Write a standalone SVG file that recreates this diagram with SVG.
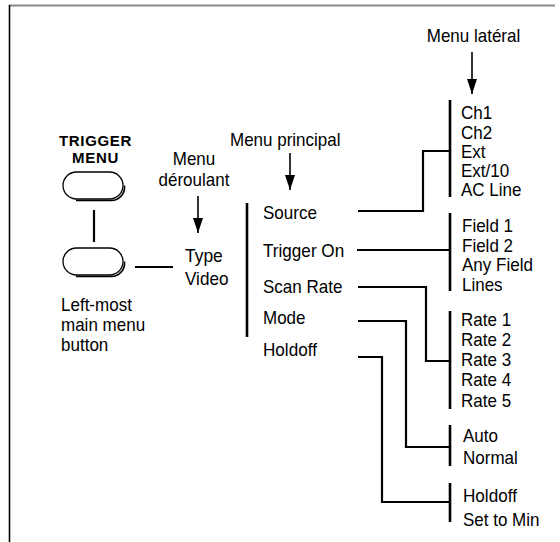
<svg xmlns="http://www.w3.org/2000/svg" width="560" height="542" viewBox="0 0 560 542">
<style>
.t{font-family:"Liberation Sans",Arial,Helvetica,sans-serif;font-size:19px;fill:#000}
.b{font-family:"Liberation Sans",Arial,Helvetica,sans-serif;font-size:15px;font-weight:bold;letter-spacing:0.7px;fill:#000}
.bar{stroke:#000;stroke-width:2.6;fill:none}
.c{stroke:#000;stroke-width:2.2;fill:none}
.a{stroke:#000;stroke-width:1.6;fill:none;marker-end:url(#ah)}
.btn{fill:#fff;stroke:#000;stroke-width:1.3}
.sh{fill:none;stroke:#000;stroke-width:1.6}
</style>
<defs>
<marker id="ah" viewBox="0 -5 15 10" markerWidth="15" markerHeight="10" refX="15" refY="0" orient="auto" markerUnits="userSpaceOnUse">
<path d="M0,-5 L15,0 L0,5 z" fill="#000"/>
</marker>
</defs>
<rect width="560" height="542" fill="#fff"/>
<g id="frame">
<line x1="9" y1="5.5" x2="555" y2="5.5" stroke="#888" stroke-width="1.8"/>
<line x1="9.5" y1="5" x2="9.5" y2="542" stroke="#000" stroke-width="1.6"/>
</g>
<g id="trigger-menu-label">
<text class="b" x="95.5" y="145.5" text-anchor="middle">TRIGGER</text>
<text class="b" x="95.5" y="162.5" text-anchor="middle">MENU</text>
</g>
<g id="button-trigger-menu">
<rect class="btn" x="63" y="172" width="60" height="27" rx="13.5"/>
<path class="sh" d="M76,200.5 H110 A13.5,13.5 0 0 0 124.5,185.5"/>
</g>
<g id="button-left-most">
<rect class="btn" x="63" y="248" width="60" height="27" rx="13.5"/>
<path class="sh" d="M76,276.5 H110 A13.5,13.5 0 0 0 124.5,261.5"/>
</g>
<g id="label-left-most">
<text class="t" x="61" y="310.5" textLength="70.9" lengthAdjust="spacingAndGlyphs">Left-most</text>
<text class="t" x="61" y="330.5" textLength="84.1" lengthAdjust="spacingAndGlyphs">main menu</text>
<text class="t" x="61" y="350.5" textLength="47.3" lengthAdjust="spacingAndGlyphs">button</text>
</g>
<g id="label-menu-deroulant">
<text class="t" x="194" y="165" text-anchor="middle" textLength="42.5" lengthAdjust="spacingAndGlyphs">Menu</text>
<text class="t" x="194" y="186" text-anchor="middle" textLength="70.9" lengthAdjust="spacingAndGlyphs">déroulant</text>
</g>
<g id="node-type-video">
<text class="t" x="185" y="261.5" textLength="37.8" lengthAdjust="spacingAndGlyphs">Type</text>
<text class="t" x="185" y="284.5" textLength="43.5" lengthAdjust="spacingAndGlyphs">Video</text>
</g>
<g id="label-menu-principal">
<text class="t" x="230" y="146" textLength="110.5" lengthAdjust="spacingAndGlyphs">Menu principal</text>
</g>
<g id="main-menu">
<line class="bar" x1="247" y1="203" x2="247" y2="337"/>
<text class="t" x="263" y="219" textLength="53.9" lengthAdjust="spacingAndGlyphs">Source</text>
<text class="t" x="263" y="257" textLength="81.2" lengthAdjust="spacingAndGlyphs">Trigger On</text>
<text class="t" x="263" y="292.5" textLength="79.4" lengthAdjust="spacingAndGlyphs">Scan Rate</text>
<text class="t" x="263" y="323.5" textLength="42.5" lengthAdjust="spacingAndGlyphs">Mode</text>
<text class="t" x="263" y="356" textLength="53.9" lengthAdjust="spacingAndGlyphs">Holdoff</text>
</g>
<g id="label-menu-lateral">
<text class="t" x="473.5" y="42" text-anchor="middle" textLength="93.5" lengthAdjust="spacingAndGlyphs">Menu latéral</text>
</g>
<g id="side-source">
<line class="bar" x1="450" y1="100" x2="450" y2="197"/>
<text class="t" x="461" y="119" textLength="31.2" lengthAdjust="spacingAndGlyphs">Ch1</text>
<text class="t" x="461" y="138.5" textLength="31.2" lengthAdjust="spacingAndGlyphs">Ch2</text>
<text class="t" x="461" y="158" textLength="24.6" lengthAdjust="spacingAndGlyphs">Ext</text>
<text class="t" x="461" y="177" textLength="48.2" lengthAdjust="spacingAndGlyphs">Ext/10</text>
<text class="t" x="461" y="196" textLength="60.5" lengthAdjust="spacingAndGlyphs">AC Line</text>
</g>
<g id="side-trigger-on">
<line class="bar" x1="450" y1="213" x2="450" y2="291"/>
<text class="t" x="462" y="232" textLength="51" lengthAdjust="spacingAndGlyphs">Field 1</text>
<text class="t" x="462" y="252" textLength="51" lengthAdjust="spacingAndGlyphs">Field 2</text>
<text class="t" x="462" y="271" textLength="70.9" lengthAdjust="spacingAndGlyphs">Any Field</text>
<text class="t" x="462" y="291" textLength="40.6" lengthAdjust="spacingAndGlyphs">Lines</text>
</g>
<g id="side-scan-rate">
<line class="bar" x1="450" y1="311" x2="450" y2="409"/>
<text class="t" x="461" y="326" textLength="50.1" lengthAdjust="spacingAndGlyphs">Rate 1</text>
<text class="t" x="461" y="346" textLength="50.1" lengthAdjust="spacingAndGlyphs">Rate 2</text>
<text class="t" x="461" y="366" textLength="50.1" lengthAdjust="spacingAndGlyphs">Rate 3</text>
<text class="t" x="461" y="386" textLength="50.1" lengthAdjust="spacingAndGlyphs">Rate 4</text>
<text class="t" x="461" y="406.5" textLength="50.1" lengthAdjust="spacingAndGlyphs">Rate 5</text>
</g>
<g id="side-mode">
<line class="bar" x1="450" y1="425" x2="450" y2="466"/>
<text class="t" x="463" y="442" textLength="35" lengthAdjust="spacingAndGlyphs">Auto</text>
<text class="t" x="463" y="464" textLength="54.8" lengthAdjust="spacingAndGlyphs">Normal</text>
</g>
<g id="side-holdoff">
<line class="bar" x1="450" y1="483" x2="450" y2="522"/>
<text class="t" x="463" y="502" textLength="53.9" lengthAdjust="spacingAndGlyphs">Holdoff</text>
<text class="t" x="463" y="525.5" textLength="76.5" lengthAdjust="spacingAndGlyphs">Set to Min</text>
</g>
<g id="connectors">
<line class="c" x1="94" y1="210" x2="94" y2="242"/>
<line class="c" x1="135" y1="267" x2="173" y2="267"/>
<line class="a" x1="472" y1="52" x2="472" y2="94"/>
<line class="a" x1="290" y1="153" x2="290" y2="190"/>
<line class="a" x1="198" y1="196" x2="198" y2="233"/>
<path class="c" d="M358,211 H423 V151 H450"/>
<path class="c" d="M357,250 H450"/>
<path class="c" d="M358,287 H426 V361 H450"/>
<path class="c" d="M358,321 H406 V447 H450"/>
<path class="c" d="M358,357 H382 V502 H450"/>
</g>
</svg>
